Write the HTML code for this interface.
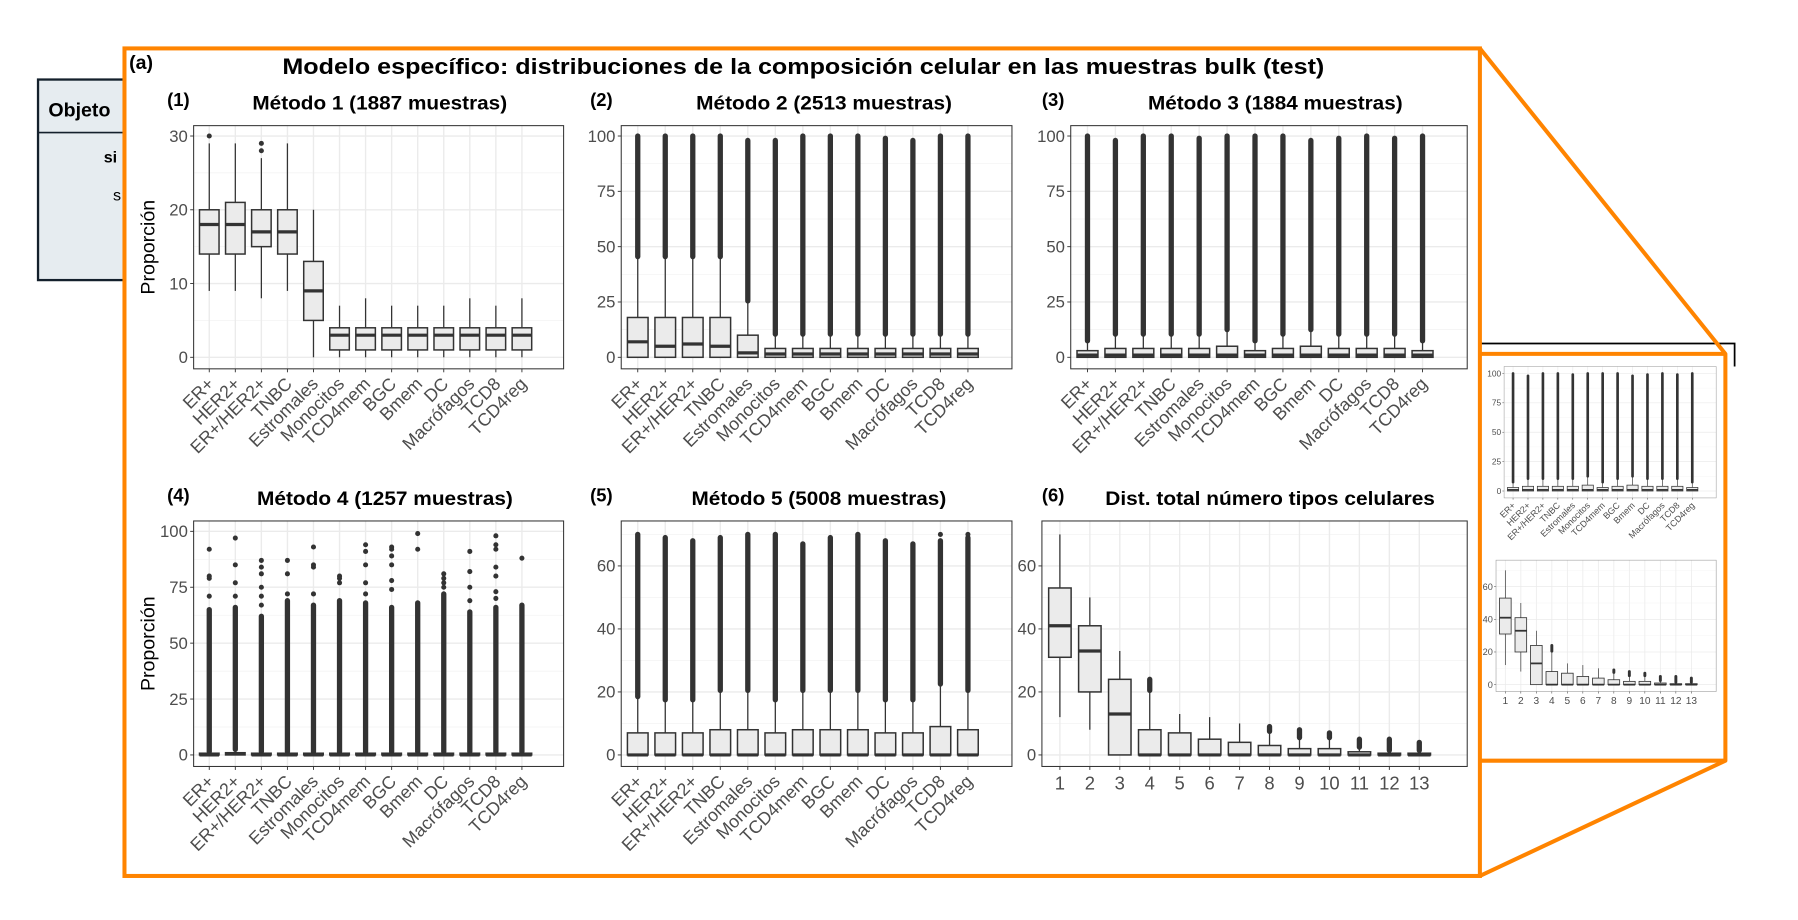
<!DOCTYPE html>
<html><head><meta charset="utf-8">
<style>
html,body{margin:0;padding:0;background:#fff;}
svg{display:block;font-family:"Liberation Sans",sans-serif;}
</style></head>
<body>
<svg id="fig" width="1798" height="920" viewBox="0 0 1560 798.2" xmlns="http://www.w3.org/2000/svg">
  <g>
    <rect x="33" y="69" width="90" height="174" fill="#e6ecf0" stroke="#14202c" stroke-width="2"/>
    <line x1="33" y1="115" x2="123" y2="115" stroke="#14202c" stroke-width="1.5"/>
    <text x="42" y="101" font-size="17" font-weight="bold" fill="#000">Objeto</text>
    <text x="90" y="141" font-size="14" font-weight="bold" fill="#000">si</text>
    <text x="98" y="174" font-size="14" fill="#000">s</text>
  </g>
  <polyline points="1280,298 1505,298 1505,318" fill="none" stroke="#000" stroke-width="1.5"/>
  <g>
    <rect x="1284" y="307" width="213" height="353" fill="#fff"/>
    <rect x="108" y="42" width="1176" height="718" fill="#fff"/>
    <polyline points="1284,42 1497,307 1497,660 1284,760" fill="none" stroke="#ff8400" stroke-width="3.5" stroke-linejoin="round"/>
    <line x1="1284" y1="307" x2="1497" y2="307" stroke="#ff8400" stroke-width="3.5"/>
    <line x1="1284" y1="660" x2="1497" y2="660" stroke="#ff8400" stroke-width="3.5"/>
    <rect x="108" y="42" width="1176" height="718" fill="none" stroke="#ff8400" stroke-width="3.5"/>
  </g>
  <text x="112" y="60" font-size="17" font-weight="bold">(a)</text>
  <text x="245" y="64" font-size="19.5" font-weight="bold" textLength="904" lengthAdjust="spacingAndGlyphs">Modelo específico: distribuciones de la composición celular en las muestras bulk (test)</text>
  <g id="charts"></g>
</svg>
<script>
// ---- data ----
const cellTypes = ["ER+","HER2+","ER+/HER2+","TNBC","Estromales","Monocitos","TCD4mem","BGC","Bmem","DC","Macrófagos","TCD8","TCD4reg"];
const nTypes = ["1","2","3","4","5","6","7","8","9","10","11","12","13"];

const m1Lo  = [9,9,8,9,0,0,0,0,0,0,0,0,0];
const m1Q1  = [14,14,15,14,5,1,1,1,1,1,1,1,1];
const m1Med = [18,18,17,17,9,3,3,3,3,3,3,3,3];
const m1Q3  = [20,21,20,20,13,4,4,4,4,4,4,4,4];
const m1Hi  = [29,29,27,29,20,7,8,7,7,7,8,7,8];
const m1Dense = [0,0,0,0,0,0,0,0,0,0,0,0,0];
const m1Out = [[30],[],[28,29],[],[],[],[],[],[],[],[],[],[]];

const m2Lo  = [0,0,0,0,0,0,0,0,0,0,0,0,0];
const m2Q1  = [0,0,0,0,0,0,0,0,0,0,0,0,0];
const m2Med = [7,5,6,5,2,1.5,1.5,1.5,1.5,1.5,1.5,1.5,1.5];
const m2Q3  = [18,18,18,18,10,4,4,4,4,4,4,4,4];
const m2Hi  = [45,45,45,45,25,10,10,10,10,10,10,10,10];
const m2Dense = [100,100,100,100,98,98,100,100,100,99,98,100,100];
const m2Out = [[],[],[],[],[],[],[],[],[],[],[],[],[]];

const m3Lo  = [0,0,0,0,0,0,0,0,0,0,0,0,0];
const m3Q1  = [0,0,0,0,0,0,0,0,0,0,0,0,0];
const m3Med = [1,1,1,1,1,1,1,1,1,1,1,1,1];
const m3Q3  = [3,4,4,4,4,5,3,4,5,4,4,4,3];
const m3Hi  = [7,10,10,10,10,12,7,10,12,10,10,10,7];
const m3Dense = [100,98,100,100,99,100,100,100,98,99,100,99,100];
const m3Out = [[],[],[],[],[],[],[],[],[],[],[],[],[]];

const m4Lo  = [0,0,0,0,0,0,0,0,0,0,0,0,0];
const m4Q1  = [0,0,0,0,0,0,0,0,0,0,0,0,0];
const m4Med = [0,0.5,0,0,0,0,0,0,0,0,0,0,0];
const m4Q3  = [0.5,1,0.5,0.5,0.5,0.5,0.5,0.5,0.5,0.5,0.5,0.5,0.5];
const m4Hi  = [1,2,1,1,1,1,1,1,1,1,1,1,1];
const m4Dense = [65,66,62,69,67,69,68,66,68,72,64,66,67];
const m4Out = [[71,79,80,92],[71,77,85,97],[67,71,75,81,84,87],[72,81,87],[72,84,85,93],[77,79,80],[72,77,85,91,94],[74,78,85,89,92,93],[92,99],[75,77,79,81],[69,75,82,91],[70,73,80,84,92,94,98],[88]];

const m5Lo  = [0,0,0,0,0,0,0,0,0,0,0,0,0];
const m5Q1  = [0,0,0,0,0,0,0,0,0,0,0,0,0];
const m5Med = [0,0,0,0,0,0,0,0,0,0,0,0,0];
const m5Q3  = [7,7,7,8,8,7,8,8,8,7,7,9,8];
const m5Hi  = [18,17,17,20,20,17,20,20,20,17,17,22,20];
const m5Dense = [70,69,68,69,70,70,67,69,70,68,67,68,69];
const m5Out = [[],[],[],[],[],[],[],[],[],[],[],[70],[70]];

const m6Lo  = [12,8,0,0,0,0,0,0,0,0,0,0,0];
const m6Q1  = [31,20,0,0,0,0,0,0,0,0,0,0,0];
const m6Med = [41,33,13,0,0,0,0,0,0,0,0,0,0];
const m6Q3  = [53,41,24,8,7,5,4,3,2,2,1,0.5,0.5];
const m6Hi  = [70,50,33,20,13,12,10,7,5,5,2,1,1];
const m6Dense = [0,0,0,24,0,0,0,9,8,7,5,5,4];
const m6Out = [[],[],[],[],[],[],[],[],[],[],[],[],[]];

const yTicks30 = [0,10,20,30];
const yTicks100 = [0,25,50,75,100];
const yTicks60 = [0,20,40,60];

// ---- drawing ----
const NS = "http://www.w3.org/2000/svg";
const root = document.getElementById('charts');
function mk(tag, attrs, parent){
  const e = document.createElementNS(NS, tag);
  for (const k in attrs) e.setAttribute(k, attrs[k]);
  parent.appendChild(e);
  return e;
}

function drawPanel(o){
  const g = mk('g', {}, root);
  
  
  const s = o.scale;
  const L=o.x, R=o.x+o.w, T=o.y, B=o.y+o.h;
  const yS = v => o.y0px + v * (o.y1px - o.y0px) / o.yMax;
  const n = o.cats.length;
  const bw = o.w / (n + 1.2);
  const xS = i => L + (0.6 + i) * bw;
  mk('rect', {x:L, y:T, width:o.w, height:o.h, fill:'#fff'}, g);
  for (let i=0;i<o.ticks.length-1;i++){
    const v=(o.ticks[i]+o.ticks[i+1])/2;
    mk('line',{x1:L,x2:R,y1:yS(v),y2:yS(v),stroke:'#f2f2f2','stroke-width':0.6*s},g);
  }
  const step = o.ticks[1]-o.ticks[0];
  const vTop = o.ticks[o.ticks.length-1]+step/2;
  if (yS(vTop) > T) mk('line',{x1:L,x2:R,y1:yS(vTop),y2:yS(vTop),stroke:'#f2f2f2','stroke-width':0.6*s},g);
  o.ticks.forEach(v=>{
    mk('line',{x1:L,x2:R,y1:yS(v),y2:yS(v),stroke:'#ebebeb','stroke-width':1.2*s},g);
    mk('line',{x1:L-3*s,x2:L,y1:yS(v),y2:yS(v),stroke:'#333','stroke-width':0.8*s},g);
    const t = mk('text',{x:L-5*s,y:yS(v)+5*s,'font-size':14.5*s,fill:'#4d4d4d','text-anchor':'end'},g);
    t.textContent = v;
    
    
  });
  for (let i=0;i<n;i++){
    mk('line',{x1:xS(i),x2:xS(i),y1:T,y2:B,stroke:'#ebebeb','stroke-width':1.2*s},g);
  }
  const boxW = bw*0.75;
  const dc = '#333333';
  for (let i=0;i<n;i++){
    const cx = xS(i);
    const bg = mk('g',{},g);
    
    
    if (o.dense[i] > o.hi[i]){
      mk('line',{x1:cx,x2:cx,y1:yS(o.hi[i]+0.5),y2:yS(o.dense[i]),stroke:dc,'stroke-width':4.6*s,'stroke-linecap':'round'},bg);
    }
    o.out[i].forEach(v=>{
      mk('circle',{cx:cx,cy:yS(v),r:2.2*s,fill:dc},bg);
    });
    mk('line',{x1:cx,x2:cx,y1:yS(o.hi[i]),y2:yS(o.q3[i]),stroke:dc,'stroke-width':1.1*s},bg);
    mk('line',{x1:cx,x2:cx,y1:yS(o.q1[i]),y2:yS(o.lo[i]),stroke:dc,'stroke-width':1.1*s},bg);
    const hgt = Math.max(yS(o.q1[i])-yS(o.q3[i]), 1.5*s);
    mk('rect',{x:cx-boxW/2,y:yS(o.q1[i])-hgt,width:boxW,height:hgt,fill:'#ebebeb',stroke:dc,'stroke-width':1.3*s},bg);
    mk('line',{x1:cx-boxW/2,x2:cx+boxW/2,y1:yS(o.med[i]),y2:yS(o.med[i]),stroke:dc,'stroke-width':2.8*s},bg);
  }
  mk('rect',{x:L,y:T,width:o.w,height:o.h,fill:'none',stroke:o.border||'#333','stroke-width':0.9*s},g);
  for (let i=0;i<n;i++){
    const cx = xS(i);
    mk('line',{x1:cx,x2:cx,y1:B,y2:B+3*s,stroke:'#333','stroke-width':0.8*s},g);
    let t;
    if (o.rotate){
      t = mk('text',{x:cx+5*s,y:B+14*s,'font-size':15.5*s,fill:'#4d4d4d','text-anchor':'end',transform:`rotate(-45 ${cx+5*s} ${B+14*s})`},g);
    } else {
      t = mk('text',{x:cx,y:B+20*s,'font-size':16*s,fill:'#4d4d4d','text-anchor':'middle'},g);
    }
    t.textContent = o.cats[i];
    
    
  }
  if (o.title){
    const tt = mk('text',{x:o.tx,y:T-14,'font-size':17,'font-weight':'bold',textLength:o.tw,lengthAdjust:'spacingAndGlyphs'},g);
    tt.textContent = o.title;
    
    
    const tl = mk('text',{x:o.labelX,y:T-17,'font-size':16,'font-weight':'bold'},g);
    tl.textContent = o.label;
    
    
  }
  if (o.ylab){
    const yl = mk('text',{x:0,y:0,'font-size':17,'text-anchor':'middle',fill:'#000',transform:`translate(${L-34} ${(T+B)/2}) rotate(-90)`},g);
    yl.textContent = 'Proporción';
    
    
  }
}

function P(name,x,y,w,h,y0px,y1px,yMax,ticks,cats,lo,q1,med,q3,hi,dense,out,extra){
  return Object.assign({name,x,y,w,h,y0px,y1px,yMax,ticks,cats,lo,q1,med,q3,hi,dense,out,scale:1,rotate:true},extra||{});
}

drawPanel(P('panel-metodo-1',168,109,321,211,310,118,30,yTicks30,cellTypes,m1Lo,m1Q1,m1Med,m1Q3,m1Hi,m1Dense,m1Out,{title:'Método 1 (1887 muestras)',label:'(1)',labelX:145,ylab:true,tx:219,tw:221}));
drawPanel(P('panel-metodo-2',539,109,339,211,310,118,100,yTicks100,cellTypes,m2Lo,m2Q1,m2Med,m2Q3,m2Hi,m2Dense,m2Out,{title:'Método 2 (2513 muestras)',label:'(2)',labelX:512,tx:604,tw:222}));
drawPanel(P('panel-metodo-3',929,109,344,211,310,118,100,yTicks100,cellTypes,m3Lo,m3Q1,m3Med,m3Q3,m3Hi,m3Dense,m3Out,{title:'Método 3 (1884 muestras)',label:'(3)',labelX:904,tx:996,tw:221}));
drawPanel(P('panel-metodo-4',168,452,321,213,655,461,100,yTicks100,cellTypes,m4Lo,m4Q1,m4Med,m4Q3,m4Hi,m4Dense,m4Out,{title:'Método 4 (1257 muestras)',label:'(4)',labelX:145,ylab:true,tx:223,tw:222}));
drawPanel(P('panel-metodo-5',539,452,339,213,655,491,60,yTicks60,cellTypes,m5Lo,m5Q1,m5Med,m5Q3,m5Hi,m5Dense,m5Out,{title:'Método 5 (5008 muestras)',label:'(5)',labelX:512,tx:600,tw:221}));
drawPanel(P('panel-dist-total',904,452,369,213,655,491,60,yTicks60,nTypes,m6Lo,m6Q1,m6Med,m6Q3,m6Hi,m6Dense,m6Out,{title:'Dist. total número tipos celulares',label:'(6)',labelX:904,tx:959,tw:286,rotate:false}));
drawPanel(P('inset-metodo-3',1305,318,184,114,426,324,100,yTicks100,cellTypes,m3Lo,m3Q1,m3Med,m3Q3,m3Hi,m3Dense,m3Out,{scale:0.5,border:'#999'}));
drawPanel(P('inset-dist-total',1298,486,191,114,594,509,60,yTicks60,nTypes,m6Lo,m6Q1,m6Med,m6Q3,m6Hi,m6Dense,m6Out,{scale:0.55,rotate:false,border:'#999'}));
</script>
</body></html>
